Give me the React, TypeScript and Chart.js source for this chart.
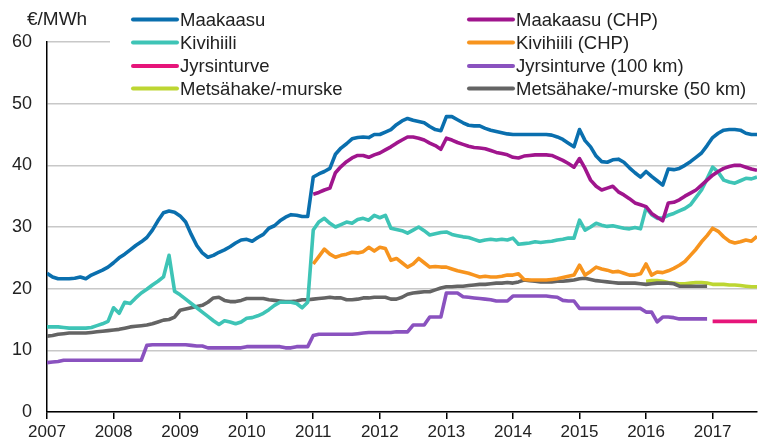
import React, { useEffect, useRef } from 'react';
import { Chart, registerables } from 'chart.js';

Chart.register(...registerables);

const START_YEAR = 2007;
const X_MAX = 2017 + 8 / 12;
const FONT = '"Liberation Sans", Arial, Helvetica, sans-serif';

// Month offsets (from Jan 2007) where each series starts
const START_2007 = 0;
const START_2011 = 48;
const START_2016 = 108;
const START_2017 = 120;

const yTicks = [0, 10, 20, 30, 40, 50, 60];
const xYears = [2007, 2008, 2009, 2010, 2011, 2012, 2013, 2014, 2015, 2016, 2017];

const maakaasu = [
  22.5, 21.9, 21.6, 21.6, 21.6, 21.7, 21.9, 21.6, 22.2, 22.6, 23.0, 23.5,
  24.2, 25.0, 25.6, 26.3, 27.0, 27.6, 28.3, 29.5, 31.0, 32.3, 32.6, 32.4,
  31.8, 30.8, 28.8, 27.0, 25.8, 25.1, 25.4, 25.9, 26.3, 26.8, 27.4, 27.9,
  28.0, 27.7, 28.3, 28.8, 29.8, 30.2, 31.0, 31.6, 32.0, 31.9, 31.7, 31.7,
  38.1, 38.6, 39.0, 39.5, 41.8, 42.8, 43.5, 44.3, 44.5, 44.6, 44.5, 45.0,
  45.0, 45.4, 45.8, 46.6, 47.2, 47.6, 47.3, 47.1, 46.9, 46.3, 45.8, 45.6,
  47.9, 47.9, 47.4, 46.9, 46.5, 46.4, 46.4, 46.0, 45.7, 45.5, 45.3, 45.1,
  45.0, 45.0, 45.0, 45.0, 45.0, 45.0, 45.0, 44.9, 44.6, 44.2, 43.6, 43.0,
  45.8, 44.0, 43.0, 41.5, 40.6, 40.5, 40.9, 41.0, 40.5, 39.6, 38.8, 38.1,
  39.0, 38.2, 37.5, 36.8, 39.4, 39.3, 39.5, 40.0, 40.6, 41.3, 42.0, 43.2,
  44.5, 45.2, 45.7, 45.8, 45.8, 45.7, 45.2, 45.0, 45.0,
];

const maakaasuChp = [
  35.3, 35.6, 36.0, 36.3, 38.8, 39.8, 40.6, 41.2, 41.6, 41.6, 41.3, 41.7,
  42.0, 42.5, 43.0, 43.6, 44.1, 44.6, 44.6, 44.4, 44.1, 43.6, 43.2, 42.6,
  44.4, 44.1, 43.7, 43.4, 43.1, 42.9, 42.8, 42.7, 42.4, 42.1, 41.9, 41.7,
  41.3, 41.2, 41.5, 41.6, 41.7, 41.7, 41.7, 41.6, 41.2, 40.8, 40.3, 39.7,
  41.1, 39.5, 37.6, 36.6, 36.0, 36.3, 36.6, 35.7, 35.2, 34.6, 33.9, 33.6,
  33.3, 32.2, 31.6, 31.0, 33.9, 34.0, 34.4, 35.0, 35.5, 36.0, 36.8, 37.6,
  38.4, 39.0, 39.5, 39.8, 40.0, 40.0, 39.7, 39.4, 39.2,
];

const kivihiili = [
  13.8, 13.8, 13.8, 13.7, 13.6, 13.6, 13.6, 13.6, 13.7, 14.0, 14.3, 14.7,
  16.9, 16.0, 17.8, 17.6, 18.5, 19.3, 19.9, 20.6, 21.2, 21.9, 25.4, 19.6,
  19.0, 18.3, 17.6, 16.9, 16.2, 15.5, 14.8, 14.2, 14.8, 14.6, 14.3, 14.6,
  15.2, 15.3, 15.6, 16.0, 16.6, 17.3, 17.8, 17.8, 17.8, 17.6, 16.9, 17.8,
  29.5, 30.8, 31.4, 30.6, 30.0, 30.4, 30.8, 30.6, 31.2, 31.4, 31.1, 31.9,
  31.5, 31.9, 29.8, 29.6, 29.4, 29.0, 29.5, 30.0, 29.4, 28.7, 28.9, 29.1,
  29.2, 28.8, 28.6, 28.4, 28.3, 28.0, 27.7, 27.9, 28.0, 27.9, 28.0, 27.9,
  28.2, 27.2, 27.3, 27.4, 27.6, 27.5, 27.6, 27.7, 27.9, 28.0, 28.2, 28.2,
  31.1, 29.5, 30.0, 30.6, 30.3, 30.1, 30.2, 30.0, 29.8, 29.7, 29.9, 29.7,
  33.1, 32.0, 31.4, 31.5, 31.9, 32.2, 32.6, 33.0, 33.6, 34.8, 36.0, 37.8,
  39.7, 38.9, 37.6, 37.3, 37.1, 37.5, 37.9, 37.8, 38.1,
];

const kivihiiliChp = [
  24.0, 25.2, 26.4, 25.6, 25.1, 25.4, 25.6, 25.9, 25.8, 26.0, 26.7, 26.1,
  26.7, 26.5, 24.6, 24.9, 24.2, 23.5, 24.0, 24.9, 24.2, 23.5, 23.6, 23.5,
  23.5, 23.2, 22.9, 22.7, 22.5, 22.2, 21.9, 22.0, 21.9, 21.9, 22.0, 22.2,
  22.2, 22.4, 21.5, 21.4, 21.4, 21.4, 21.4, 21.5, 21.6, 21.8, 22.0, 22.2,
  23.8, 22.2, 22.8, 23.5, 23.2, 23.0, 22.7, 22.8, 22.5, 22.2, 22.2, 22.4,
  24.0, 22.2, 22.7, 22.6, 22.9, 23.3, 23.8, 24.4, 25.4, 26.4, 27.6, 28.6,
  29.8, 29.3, 28.4, 27.7, 27.4, 27.6, 27.9, 27.7, 28.5,
];

const jyrsinturve = [14.7, 14.7, 14.7, 14.7, 14.7, 14.7, 14.7, 14.7, 14.7];

const jyrsinturve100 = [
  8.0, 8.1, 8.2, 8.4, 8.4, 8.4, 8.4, 8.4, 8.4, 8.4, 8.4, 8.4,
  8.4, 8.4, 8.4, 8.4, 8.4, 8.4, 10.8, 10.9, 10.9, 10.9, 10.9, 10.9,
  10.9, 10.9, 10.8, 10.7, 10.7, 10.4, 10.4, 10.4, 10.4, 10.4, 10.4, 10.4,
  10.6, 10.6, 10.6, 10.6, 10.6, 10.6, 10.6, 10.4, 10.4, 10.6, 10.6, 10.6,
  12.4, 12.6, 12.6, 12.6, 12.6, 12.6, 12.6, 12.6, 12.7, 12.8, 12.9, 12.9,
  12.9, 12.9, 12.9, 13.0, 13.0, 13.0, 14.1, 14.1, 14.1, 15.4, 15.4, 15.4,
  19.3, 19.3, 19.3, 18.7, 18.6, 18.5, 18.4, 18.3, 18.2, 18.0, 18.0, 18.0,
  18.8, 18.8, 18.8, 18.8, 18.8, 18.8, 18.8, 18.7, 18.6, 18.1, 18.0, 18.0,
  16.8, 16.8, 16.8, 16.8, 16.8, 16.8, 16.8, 16.8, 16.8, 16.8, 16.8, 16.8,
  16.2, 16.2, 14.6, 15.4, 15.4, 15.3, 15.1, 15.1, 15.1, 15.1, 15.1, 15.1,
];

const metsahake = [
  21.2, 21.3, 21.3, 21.2, 21.0, 20.9, 20.8, 20.8, 20.9, 21.0, 21.0, 20.9,
  20.7, 20.7, 20.7, 20.6, 20.6, 20.5, 20.4, 20.3, 20.3,
];

const metsahake50 = [
  12.3, 12.4, 12.6, 12.7, 12.8, 12.8, 12.8, 12.8, 12.9, 13.0, 13.1, 13.2,
  13.3, 13.4, 13.6, 13.8, 13.9, 14.0, 14.1, 14.3, 14.6, 14.9, 15.0, 15.4,
  16.5, 16.7, 16.9, 17.1, 17.3, 17.8, 18.5, 18.6, 18.1, 17.9, 17.9, 18.1,
  18.4, 18.4, 18.4, 18.4, 18.2, 18.1, 18.0, 17.9, 17.9, 18.0, 18.2, 18.2,
  18.3, 18.4, 18.5, 18.6, 18.5, 18.5, 18.2, 18.2, 18.3, 18.5, 18.5, 18.6,
  18.6, 18.6, 18.3, 18.3, 18.6, 19.1, 19.3, 19.4, 19.5, 19.5, 19.8, 20.1,
  20.3, 20.3, 20.4, 20.4, 20.5, 20.6, 20.7, 20.7, 20.8, 20.9, 20.9, 21.0,
  20.9, 21.1, 21.4, 21.3, 21.2, 21.1, 21.1, 21.1, 21.2, 21.2, 21.3, 21.4,
  21.6, 21.7, 21.5, 21.3, 21.2, 21.1, 21.0, 20.9, 20.9, 20.9, 20.9, 20.8,
  20.7, 20.8, 20.9, 20.9, 20.9, 20.8, 20.4, 20.4, 20.4, 20.4, 20.4, 20.4,
];

const seriesLabels = [
  'Maakaasu',
  'Maakaasu (CHP)',
  'Kivihiili',
  'Kivihiili (CHP)',
  'Jyrsinturve',
  'Jyrsinturve (100 km)',
  'Metsähake/-murske',
  'Metsähake/-murske (50 km)',
];

const seriesColors = [
  '#0a6fae',
  '#a0158d',
  '#3ec4b6',
  '#f7941e',
  '#e6157a',
  '#8a52bf',
  '#bdd632',
  '#646464',
];

const seriesValues = [
  maakaasu, maakaasuChp, kivihiili, kivihiiliChp,
  jyrsinturve, jyrsinturve100, metsahake, metsahake50,
];
const seriesStarts = [
  START_2007, START_2011, START_2007, START_2011,
  START_2017, START_2007, START_2016, START_2007,
];

function toPoints(values: number[], start: number) {
  return values.map((v, i) => ({ x: START_YEAR + (start + i) / 12, y: v }));
}

const legendPlugin = {
  id: 'customLegend',
  beforeDatasetsDraw(chart: any) {
    const ctx = chart.ctx;
    ctx.save();
    // white legend background box
    ctx.fillStyle = '#ffffff';
    ctx.fillRect(110, 0, chart.width - 110, 100);
    // axis unit title
    ctx.fillStyle = '#222222';
    ctx.font = `19px ${FONT}`;
    ctx.textBaseline = 'middle';
    ctx.textAlign = 'left';
    ctx.fillText('€/MWh', 27, 20);
    const rowsY = [19.5, 42.5, 66, 88.5];
    const cols = [
      { x0: 133, x1: 177, tx: 180 },
      { x0: 469, x1: 513, tx: 516 },
    ];
    ctx.font = `18.5px ${FONT}`;
    seriesLabels.forEach((label, i) => {
      const col = cols[i % 2];
      const y = rowsY[Math.floor(i / 2)];
      ctx.strokeStyle = seriesColors[i];
      ctx.lineWidth = 4;
      ctx.lineCap = 'round';
      ctx.beginPath();
      ctx.moveTo(col.x0, y);
      ctx.lineTo(col.x1, y);
      ctx.stroke();
      ctx.fillStyle = '#222222';
      ctx.fillText(label, col.tx, y + 1);
    });
    ctx.restore();
  },
};

export default function App() {
  const canvasRef = useRef<HTMLCanvasElement | null>(null);

  useEffect(() => {
    if (!canvasRef.current) return;
    const datasets = seriesLabels.map((label, i) => ({
      label,
      data: toPoints(seriesValues[i], seriesStarts[i]),
      borderColor: seriesColors[i],
      backgroundColor: seriesColors[i],
      borderWidth: 3.6,
      pointRadius: 0,
      pointHoverRadius: 0,
      tension: 0,
      fill: false,
      borderJoinStyle: 'round' as const,
      order: label === 'Metsähake/-murske' ? 10 : 0,
    }));

    const chart = new Chart(canvasRef.current, {
      type: 'line',
      data: { datasets },
      plugins: [legendPlugin],
      options: {
        animation: false,
        responsive: false,
        maintainAspectRatio: false,
        layout: { padding: { top: 42, right: 2, left: 0, bottom: 0 } },
        plugins: {
          legend: { display: false },
          tooltip: { enabled: false },
          title: { display: false },
        },
        scales: {
          x: {
            type: 'linear',
            min: START_YEAR,
            max: X_MAX,
            afterFit: (scale: any) => { scale.height = 33; },
            afterBuildTicks: (scale: any) => {
              scale.ticks = xYears.map((v) => ({ value: v }));
            },
            ticks: {
              stepSize: 1,
              autoSkip: false,
              maxRotation: 0,
              minRotation: 0,
              includeBounds: false,
              padding: 3,
              color: '#222222',
              font: { family: FONT, size: 17 },
              callback: (v: any) => String(v),
            },
            grid: {
              display: true,
              drawOnChartArea: false,
              drawTicks: true,
              tickLength: 7,
              color: '#000000',
              lineWidth: 1.5,
            },
            border: { display: true, color: '#000000', width: 1.5 },
          },
          y: {
            type: 'linear',
            min: 0,
            max: 60,
            afterFit: (scale: any) => { scale.width = 47; },
            afterBuildTicks: (scale: any) => {
              scale.ticks = yTicks.map((v) => ({ value: v }));
            },
            ticks: {
              stepSize: 10,
              padding: 15,
              color: '#222222',
              font: { family: FONT, size: 18 },
              callback: (v: any) => String(v),
            },
            grid: {
              display: true,
              drawTicks: false,
              color: '#c8c8c8',
              lineWidth: 1.5,
            },
            border: { display: true, color: '#000000', width: 1.5 },
          },
        },
      },
    });
    return () => chart.destroy();
  }, []);

  return (
    <div style={{ position: 'absolute', left: 0, top: 0, width: 759, height: 445, background: '#fff' }}>
      <canvas ref={canvasRef} width={759} height={445} style={{ display: 'block', width: 759, height: 445 }} />
    </div>
  );
}
